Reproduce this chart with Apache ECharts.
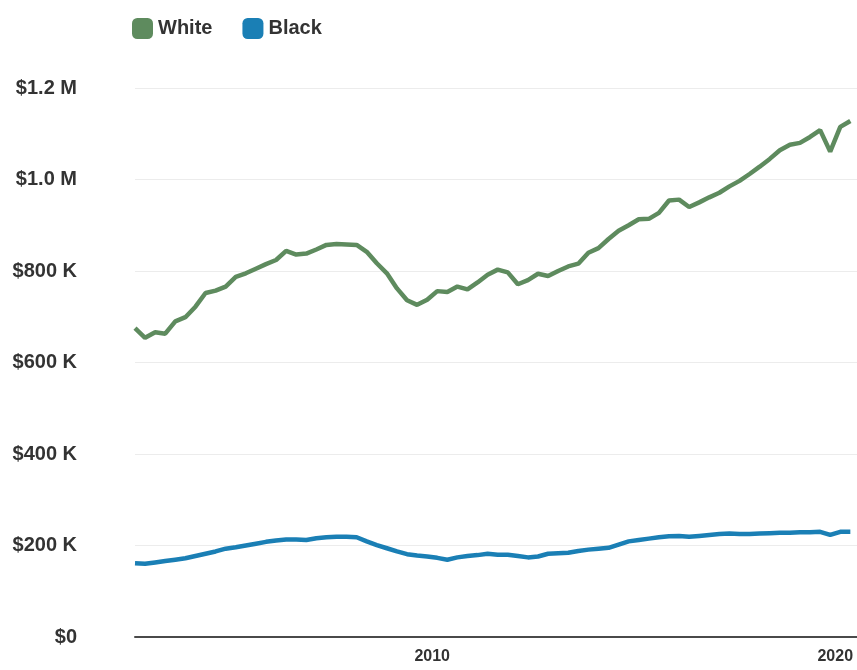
<!DOCTYPE html>
<html>
<head>
<meta charset="utf-8">
<script src="https://cdn.jsdelivr.net/npm/echarts@6/dist/echarts.min.js"></script>
<style>
  html, body { margin: 0; padding: 0; background: #fff; }
  #chart { width: 857px; height: 670px; }
</style>
</head>
<body>
<div id="chart"></div>
<script>
// quarterly points, first one just after mid 2002
var firstPos = 2002.625;
var quarterPos = [];
for (var i = 0; i < 72; i++) quarterPos.push(firstPos + i * 0.25);

var yearLabels = [2010, 2020];
var yTicks = [0, 200, 400, 600, 800, 1000, 1200]; // thousands of dollars

// values in thousands of dollars
var white = [675, 654, 666, 663, 690, 699, 722, 752, 757, 766,
  787, 795, 805, 815, 824, 844, 836, 838, 847, 857,
  859, 858, 857, 842, 817, 795, 762, 736, 726, 737,
  756, 754, 766, 760, 775, 792, 803, 797, 771, 780,
  794, 789, 800, 810, 816, 840, 850, 870, 888, 900,
  913, 914, 927, 954, 956, 940, 950, 961, 971, 985,
  997, 1012, 1028, 1045, 1064, 1076, 1080, 1093, 1108, 1061,
  1115, 1128];

var black = [161, 160, 163, 166, 169, 172, 177, 182, 187, 193,
  196, 200, 204, 208, 211, 213, 213, 212, 216, 218,
  219, 219, 218, 209, 201, 194, 187, 181, 178, 176,
  173, 169, 174, 177, 179, 182, 180, 180, 177, 174,
  176, 182, 183, 184, 188, 191, 193, 195, 202, 209,
  212, 215, 218, 220, 221, 219, 221, 223, 225, 226,
  225, 225, 226, 227, 228, 228, 229, 229, 230, 223,
  230, 230];

function pairs(vals) {
  return vals.map(function (v, i) { return [quarterPos[i], v]; });
}

var font = '"Liberation Sans", Arial, sans-serif';

var myChart = echarts.init(document.getElementById('chart'));
myChart.setOption({
  animation: false,
  legend: {
    data: ['White', 'Black'],
    left: 127,
    top: 13,
    icon: 'roundRect',
    itemWidth: 21,
    itemHeight: 21,
    itemGap: 30,
    textStyle: { fontFamily: font, fontSize: 20, fontWeight: 'bold', color: '#333' }
  },
  grid: { left: 135, right: 0, top: 88, bottom: 33 },
  xAxis: {
    type: 'value',
    min: firstPos,
    max: 2020.54,
    axisLine: { show: true, lineStyle: { color: '#4a4a4a', width: 2 } },
    axisTick: { show: false },
    splitLine: { show: false },
    axisLabel: {
      customValues: yearLabels,
      formatter: function (v) { return String(v); },
      margin: 12,
      fontFamily: font,
      fontSize: 16,
      fontWeight: 'bold',
      color: '#333'
    }
  },
  yAxis: {
    type: 'value',
    min: yTicks[0],
    max: yTicks[yTicks.length - 1],
    interval: 200,
    axisLine: { show: false },
    axisTick: { show: false },
    splitLine: { lineStyle: { color: '#ececec', width: 1 } },
    axisLabel: {
      margin: 58,
      fontFamily: font,
      fontSize: 20,
      fontWeight: 'bold',
      color: '#333',
      formatter: function (v) {
        if (v === 0) return '$0';
        if (v >= 1000) return '$' + (v / 1000).toFixed(1) + ' M';
        return '$' + v + ' K';
      }
    }
  },
  series: [
    {
      name: 'White',
      type: 'line',
      showSymbol: false,
      data: pairs(white),
      itemStyle: { color: '#5e8b5e' },
      lineStyle: { color: '#5e8b5e', width: 4.5 }
    },
    {
      name: 'Black',
      type: 'line',
      showSymbol: false,
      data: pairs(black),
      itemStyle: { color: '#1a7fb5' },
      lineStyle: { color: '#1a7fb5', width: 4.5 }
    }
  ]
});
</script>
</body>
</html>
